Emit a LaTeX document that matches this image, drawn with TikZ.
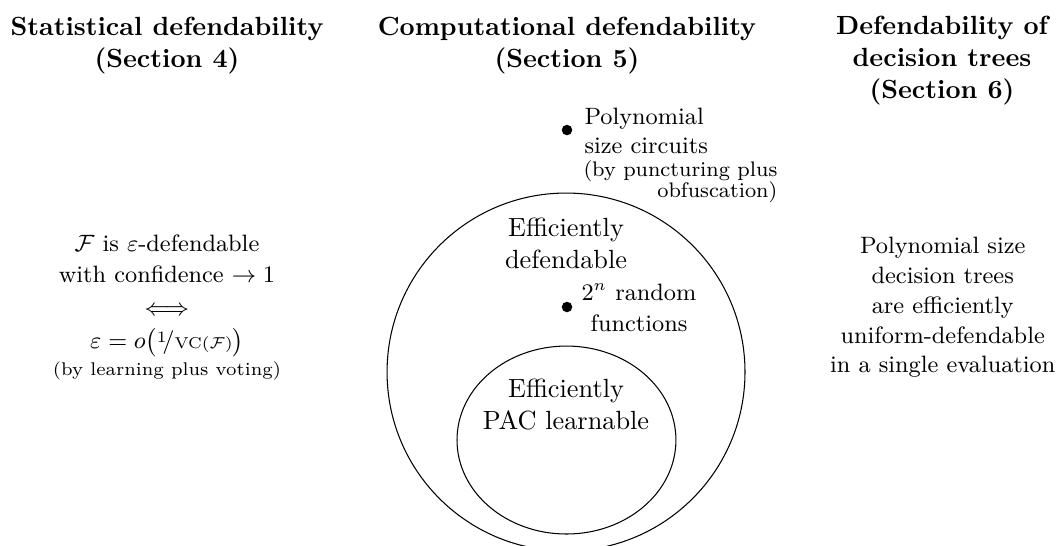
\documentclass[tikz,border=0pt]{standalone}
\usepackage{amsmath}
\usepackage{amssymb}
\usepackage{tikz}

\begin{document}
\begin{tikzpicture}[
    heading/.style={font=\bfseries, align=center, anchor=base, inner sep=0pt},
    setlabel/.style={align=center, anchor=base, inner sep=0pt},
    sidetext/.style={font=\small, align=center, anchor=base, inner sep=0pt},
    member/.style={circle, fill, inner sep=0pt, minimum size=4pt}]
    \useasboundingbox (0,0) rectangle (14.127,7.284);
    \clip (0,0) rectangle (14.127,7.284);
    % column headings (base = last line)
    \node[heading] (stathead) at (2.232,6.388) {Statistical defendability\\(Section 4)};
    \node[heading] (comphead) at (7.578,6.388) {Computational defendability\\(Section 5)};
    \node[heading] (treehead) at (12.590,5.974) {Defendability of\\decision trees\\(Section 6)};
    % statistical column
    \node[sidetext] (vcbound) at (2.232,2.272) {$\mathcal{F}$ is $\varepsilon$-defendable\\[1pt]with confidence $\to 1$\\[1.5pt]$\iff$\\[1.5pt]$\varepsilon = o\bigl(\raisebox{.6ex}{$\scriptstyle 1$}\!/\mbox{$\scriptstyle\mathrm{VC}(\mathcal{F})$}\bigr)$\\[-1pt]{\scriptsize (by learning plus voting)}};
    % computational column
    \draw (7.565,2.312) circle (2.392);
    \draw (7.571,1.403) ellipse (1.463 and 1.256);
    \node[setlabel] (effdef) at (7.565,3.702) {Efficiently\\defendable};
    \node[setlabel] (pac) at (7.565,1.550) {Efficiently\\PAC learnable};
    \node[member] (rnddot) at (7.578,3.181) {};
    \node[sidetext] (rnd) at (8.540,2.847) {$2^n$ random\\[1pt]functions};
    \node[member] (circdot) at (7.578,5.546) {};
    \node[font=\small, align=left, anchor=base west, inner sep=0pt] (circ) at (7.805,5.239) {Polynomial\\size circuits};
    \node[font=\footnotesize, align=right, anchor=base west, inner sep=0pt] (circnote) at (7.792,4.638) {(by puncturing plus\\[-1.5pt]obfuscation)};
    % decision tree column
    \node[sidetext] (dtrees) at (12.600,2.299) {Polynomial size\\[0.4pt]decision trees\\[0.4pt]are efficiently\\[0.4pt]uniform-defendable\\[0.4pt]in a single evaluation};
\end{tikzpicture}
\end{document}
